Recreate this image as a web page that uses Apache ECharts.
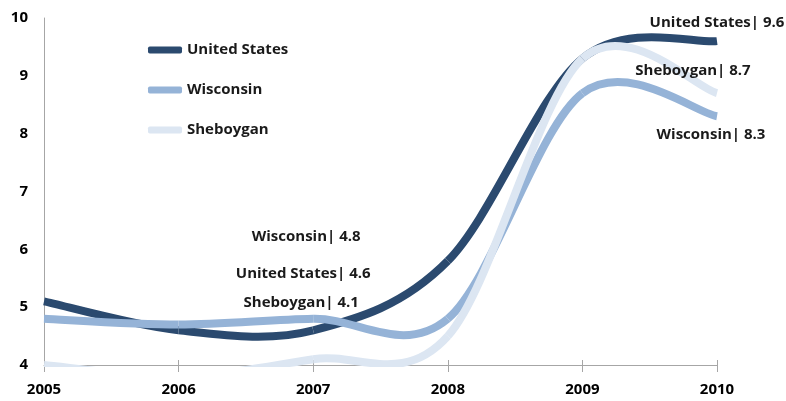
<!DOCTYPE html>
<html>
<head>
<meta charset="utf-8">
<script src="https://cdn.jsdelivr.net/npm/echarts@6/dist/echarts.min.js"></script>
<style>
html,body{margin:0;padding:0;background:#fff;}
#c{width:786px;height:401px;}
</style>
</head>
<body>
<div id="c"></div>
<script>
const years = ['2005', '2006', '2007', '2008', '2009', '2010'];
const seriesNames = ['United States', 'Wisconsin', 'Sheboygan'];
const unitedStates = [5.1, 4.6, 4.6, 5.8, 9.3, 9.6];
const wisconsin = [4.8, 4.7, 4.8, 4.8, 8.7, 8.3];
const sheboygan = [4.0, 3.8, 4.1, 4.5, 9.3, 8.7];
const yTicks = [4, 5, 6, 7, 8, 9, 10];
const labelledYears = ['2007', '2010'];

const allValues = [unitedStates, wisconsin, sheboygan];
const colors = ['#2B4A6F', '#95B3D7', '#DCE6F2'];
const labelOffsets = {
  'United States': {'2007': [-10, -57], '2010': [0, -18]},
  'Wisconsin': {'2007': [-7, -82], '2010': [-6, 18]},
  'Sheboygan': {'2007': [-12, -56], '2010': [-24, -22]}
};
const font = '"Open Sans", "DejaVu Sans", sans-serif';

// Smoothed line (Excel-like Catmull-Rom Bezier) through the data points,
// positioned via the chart's own scales (api.coord).
function lineRenderer(values, color) {
  return function (params, api) {
    const i = params.dataIndex;
    const n = values.length;
    if (i >= n - 1) return null;
    const P = k => {
      const j = Math.max(0, Math.min(n - 1, k));
      return api.coord([j, values[j]]);
    };
    const p0 = P(i - 1), p1 = P(i), p2 = P(i + 1), p3 = P(i + 2);
    const t = 1 / 6;
    return {
      type: 'bezierCurve',
      shape: {
        x1: p1[0], y1: p1[1],
        cpx1: p1[0] + (p2[0] - p0[0]) * t, cpy1: p1[1] + (p2[1] - p0[1]) * t,
        cpx2: p2[0] - (p3[0] - p1[0]) * t, cpy2: p2[1] - (p3[1] - p1[1]) * t,
        x2: p2[0], y2: p2[1]
      },
      style: {stroke: color, lineWidth: 8, fill: null, lineCap: 'butt'}
    };
  };
}

function labelRenderer(name, values) {
  return function (params, api) {
    const i = params.dataIndex;
    const yr = years[i];
    if (labelledYears.indexOf(yr) < 0) return null;
    const p = api.coord([i, values[i]]);
    const off = labelOffsets[name][yr];
    return {
      type: 'text',
      x: p[0] + off[0],
      y: p[1] + off[1],
      style: {
        text: name + '| ' + values[i].toFixed(1),
        fill: '#1a1a1a',
        fontFamily: font,
        fontWeight: 'bold',
        fontSize: 15,
        align: 'center',
        verticalAlign: 'middle'
      }
    };
  };
}

const series = [];
seriesNames.forEach((name, k) => {
  series.push({
    name: name,
    type: 'custom',
    clip: true,
    itemStyle: {color: colors[k]},
    lineStyle: {width: 4},
    renderItem: lineRenderer(allValues[k], colors[k]),
    data: allValues[k].map((v, i) => [i, v]),
    z: 2 + k
  });
});
seriesNames.forEach((name, k) => {
  series.push({
    name: name,
    type: 'custom',
    clip: false,
    itemStyle: {color: colors[k]},
    renderItem: labelRenderer(name, allValues[k]),
    data: allValues[k].map((v, i) => [i, v]),
    z: 10
  });
});

const chart = echarts.init(document.getElementById('c'), null, {renderer: 'canvas'});
chart.setOption({
  animation: false,
  backgroundColor: '#fff',
  grid: {left: 44, right: 69, top: 18, bottom: 36, outerBoundsMode: 'none', containLabel: false},
  legend: {
    orient: 'vertical',
    left: 148,
    top: 40,
    padding: 0,
    itemWidth: 34,
    itemHeight: 7,
    itemGap: 20,
    icon: 'roundRect',
    data: seriesNames,
    textStyle: {fontFamily: font, fontWeight: 'bold', fontSize: 15, color: '#1a1a1a', lineHeight: 20}
  },
  xAxis: [{
    type: 'category',
    data: years,
    boundaryGap: false,
    position: 'bottom',
    axisLine: {lineStyle: {color: '#A6A6A6', width: 1}},
    axisTick: {show: true, inside: false, length: 7, lineStyle: {color: '#A6A6A6'}},
    axisLabel: {fontFamily: font, fontWeight: 'bold', fontSize: 15, color: '#000', margin: 17}
  }, {
    type: 'category',
    data: years,
    boundaryGap: false,
    position: 'bottom',
    axisLine: {show: false},
    axisTick: {show: true, inside: true, length: 5, lineStyle: {color: '#A6A6A6'}},
    axisLabel: {show: false}
  }],
  yAxis: {
    type: 'value',
    min: yTicks[0],
    max: yTicks[yTicks.length - 1],
    interval: 1,
    axisLine: {show: true, lineStyle: {color: '#A6A6A6', width: 1}},
    axisTick: {show: false},
    splitLine: {show: false},
    axisLabel: {fontFamily: font, fontWeight: 'bold', fontSize: 15, color: '#000', margin: 16}
  },
  series: series
});
</script>
</body>
</html>
